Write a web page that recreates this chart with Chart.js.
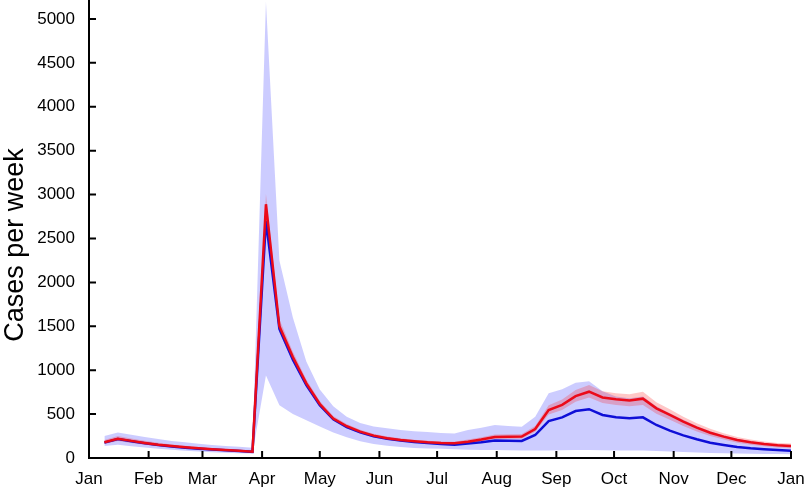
<!DOCTYPE html>
<html lang="en">
<head>
    <meta charset="UTF-8">
    <title>Cases per week</title>
    <script src="https://cdn.jsdelivr.net/npm/chart.js"></script>
    <style>
        body {
            margin: 0;
            background-color: white;
        }
        .wrap {
            width: 805px;
            height: 488px;
            position: relative;
        }
    </style>
</head>
<body>
    <div class="wrap">
        <canvas id="casesChart" width="805" height="488"></canvas>
    </div>

    <script>
        // week positions (day of year)
        const weekDays = [8, 15, 22, 29, 36, 43, 50, 57, 64, 71, 78, 85, 92, 99, 106, 113, 120, 127, 134, 141,
            148, 155, 162, 169, 176, 183, 190, 197, 204, 211, 218, 225, 232, 239, 246, 253, 260, 267, 274, 281,
            288, 295, 302, 309, 316, 323, 330, 337, 344, 351, 358, 365];

        const monthStarts = [0, 31, 59, 90, 120, 151, 181, 212, 243, 273, 304, 334, 365];
        const monthLabels = ['Jan', 'Feb', 'Mar', 'Apr', 'May', 'Jun', 'Jul', 'Aug', 'Sep', 'Oct', 'Nov', 'Dec', 'Jan'];
        const yTicks = [0, 500, 1000, 1500, 2000, 2500, 3000, 3500, 4000, 4500, 5000];

        // blue model: mean and band
        const blueMean = [175, 215, 190, 168, 148, 132, 118, 106, 96, 87, 79, 70, 2700, 1470, 1120, 830, 600, 440, 352, 292,
            248, 218, 198, 182, 170, 160, 150, 165, 180, 200, 196, 194, 262, 421, 463, 535, 556, 490, 463, 452,
            463, 376, 311, 258, 213, 174, 148, 125, 110, 99, 91, 83];
        const blueHigh = [250, 290, 265, 240, 215, 195, 178, 162, 148, 137, 128, 118, 5200, 2250, 1600, 1100, 780, 590, 470, 400,
            360, 338, 320, 305, 295, 285, 280, 320, 345, 376, 365, 357, 470, 737, 782, 858, 873, 760, 700, 680,
            700, 590, 510, 435, 365, 305, 258, 220, 192, 170, 153, 142];
        const blueLow = [137, 150, 135, 120, 105, 93, 83, 74, 66, 60, 55, 50, 940, 600, 500, 430, 360, 290, 235, 190,
            160, 140, 125, 115, 108, 105, 100, 95, 92, 90, 88, 86, 85, 86, 88, 90, 90, 88, 86, 85,
            86, 80, 74, 68, 62, 57, 53, 50, 48, 46, 45, 44];

        // red model: mean and band
        const redMean = [180, 220, 195, 172, 152, 136, 122, 110, 99, 90, 82, 72, 2890, 1500, 1150, 850, 615, 450, 362, 300,
            255, 225, 205, 190, 178, 170, 167, 186, 210, 240, 242, 245, 330, 545, 605, 705, 755, 690, 668, 655,
            676, 566, 490, 414, 345, 288, 243, 205, 179, 159, 144, 137];
        const redHigh = [205, 250, 222, 196, 173, 155, 139, 125, 113, 103, 94, 83, 3010, 1580, 1210, 895, 650, 478, 386, 322,
            275, 244, 224, 209, 197, 189, 186, 210, 236, 268, 270, 272, 365, 600, 665, 775, 830, 760, 737, 725,
            755, 635, 555, 470, 395, 332, 282, 240, 211, 188, 172, 165];
        const redLow = [160, 195, 172, 152, 134, 120, 107, 97, 87, 79, 72, 63, 2780, 1430, 1095, 808, 582, 425, 340, 280,
            237, 208, 189, 174, 163, 155, 152, 168, 190, 218, 218, 220, 298, 495, 548, 640, 690, 625, 603, 590,
            605, 505, 435, 365, 302, 250, 210, 175, 152, 134, 120, 112];

        const fontFamily = '"Liberation Sans", Arial, sans-serif';
        Chart.defaults.font.family = fontFamily;
        Chart.defaults.font.size = 17;
        Chart.defaults.color = '#000';

        function pts(values) {
            return values.map((v, i) => ({ x: weekDays[i], y: v }));
        }

        // inward tick marks, like the original figure
        const innerTicks = {
            id: 'innerTicks',
            afterDraw(chart) {
                const ctx = chart.ctx;
                const xs = chart.scales.x;
                const ys = chart.scales.y;
                const area = chart.chartArea;
                ctx.save();
                ctx.strokeStyle = '#000';
                ctx.lineWidth = 2;
                ctx.beginPath();
                monthStarts.forEach(d => {
                    const px = xs.getPixelForValue(d);
                    ctx.moveTo(px, area.bottom);
                    ctx.lineTo(px, area.bottom - 7);
                });
                yTicks.forEach(v => {
                    const py = ys.getPixelForValue(v);
                    ctx.moveTo(area.left, py);
                    ctx.lineTo(area.left + 7, py);
                });
                ctx.stroke();
                ctx.restore();
            }
        };

        // y axis title
        const yTitle = {
            id: 'yTitle',
            afterDraw(chart) {
                const ctx = chart.ctx;
                ctx.save();
                ctx.translate(16, 245);
                ctx.rotate(-Math.PI / 2);
                ctx.font = '27px ' + fontFamily;
                ctx.fillStyle = '#000';
                ctx.textAlign = 'center';
                ctx.textBaseline = 'middle';
                ctx.fillText('Cases per week', 0, 0);
                ctx.restore();
            }
        };

        const ctx = document.getElementById('casesChart').getContext('2d');
        new Chart(ctx, {
            type: 'line',
            data: {
                datasets: [
                    {
                        data: pts(redMean),
                        borderColor: 'rgb(235, 10, 25)',
                        borderWidth: 2.5,
                        pointRadius: 0,
                        fill: false,
                        order: 1
                    },
                    {
                        data: pts(blueMean),
                        borderColor: 'rgb(15, 15, 215)',
                        borderWidth: 2.5,
                        pointRadius: 0,
                        fill: false,
                        order: 2
                    },
                    {
                        data: pts(redHigh),
                        borderWidth: 0,
                        pointRadius: 0,
                        backgroundColor: 'rgba(255, 0, 0, 0.22)',
                        fill: '+1',
                        order: 4
                    },
                    {
                        data: pts(redLow),
                        borderWidth: 0,
                        pointRadius: 0,
                        fill: false,
                        order: 4
                    },
                    {
                        data: pts(blueHigh),
                        borderWidth: 0,
                        pointRadius: 0,
                        backgroundColor: 'rgba(0, 0, 255, 0.2)',
                        fill: '+1',
                        order: 6
                    },
                    {
                        data: pts(blueLow),
                        borderWidth: 0,
                        pointRadius: 0,
                        fill: false,
                        order: 6
                    }
                ]
            },
            options: {
                responsive: false,
                animation: false,
                layout: { padding: { left: 0, right: 14, top: 0, bottom: 0 } },
                plugins: {
                    legend: { display: false },
                    tooltip: { enabled: false }
                },
                elements: { line: { tension: 0 } },
                scales: {
                    x: {
                        type: 'linear',
                        min: 0,
                        max: 365,
                        afterBuildTicks: scale => {
                            scale.ticks = monthStarts.map(v => ({ value: v }));
                        },
                        afterFit: scale => {
                            scale.height = 30;
                            scale.paddingLeft = 0;
                            scale.paddingRight = 0;
                        },
                        grid: { display: false, drawTicks: false },
                        border: { display: true, color: '#000', width: 2 },
                        ticks: {
                            autoSkip: false,
                            maxRotation: 0,
                            padding: 11,
                            color: '#000',
                            font: { family: fontFamily, size: 17 },
                            callback: v => monthLabels[monthStarts.indexOf(v)]
                        }
                    },
                    y: {
                        min: 0,
                        max: 5216,
                        afterBuildTicks: scale => {
                            scale.ticks = yTicks.map(v => ({ value: v }));
                        },
                        afterFit: scale => {
                            scale.width = 89;
                            scale.paddingTop = 0;
                            scale.paddingBottom = 0;
                        },
                        grid: { display: false, drawTicks: false },
                        border: { display: true, color: '#000', width: 2 },
                        ticks: {
                            padding: 14,
                            color: '#000',
                            font: { family: fontFamily, size: 17 },
                            callback: v => String(v)
                        }
                    }
                }
            },
            plugins: [innerTicks, yTitle]
        });
    </script>
</body>
</html>
